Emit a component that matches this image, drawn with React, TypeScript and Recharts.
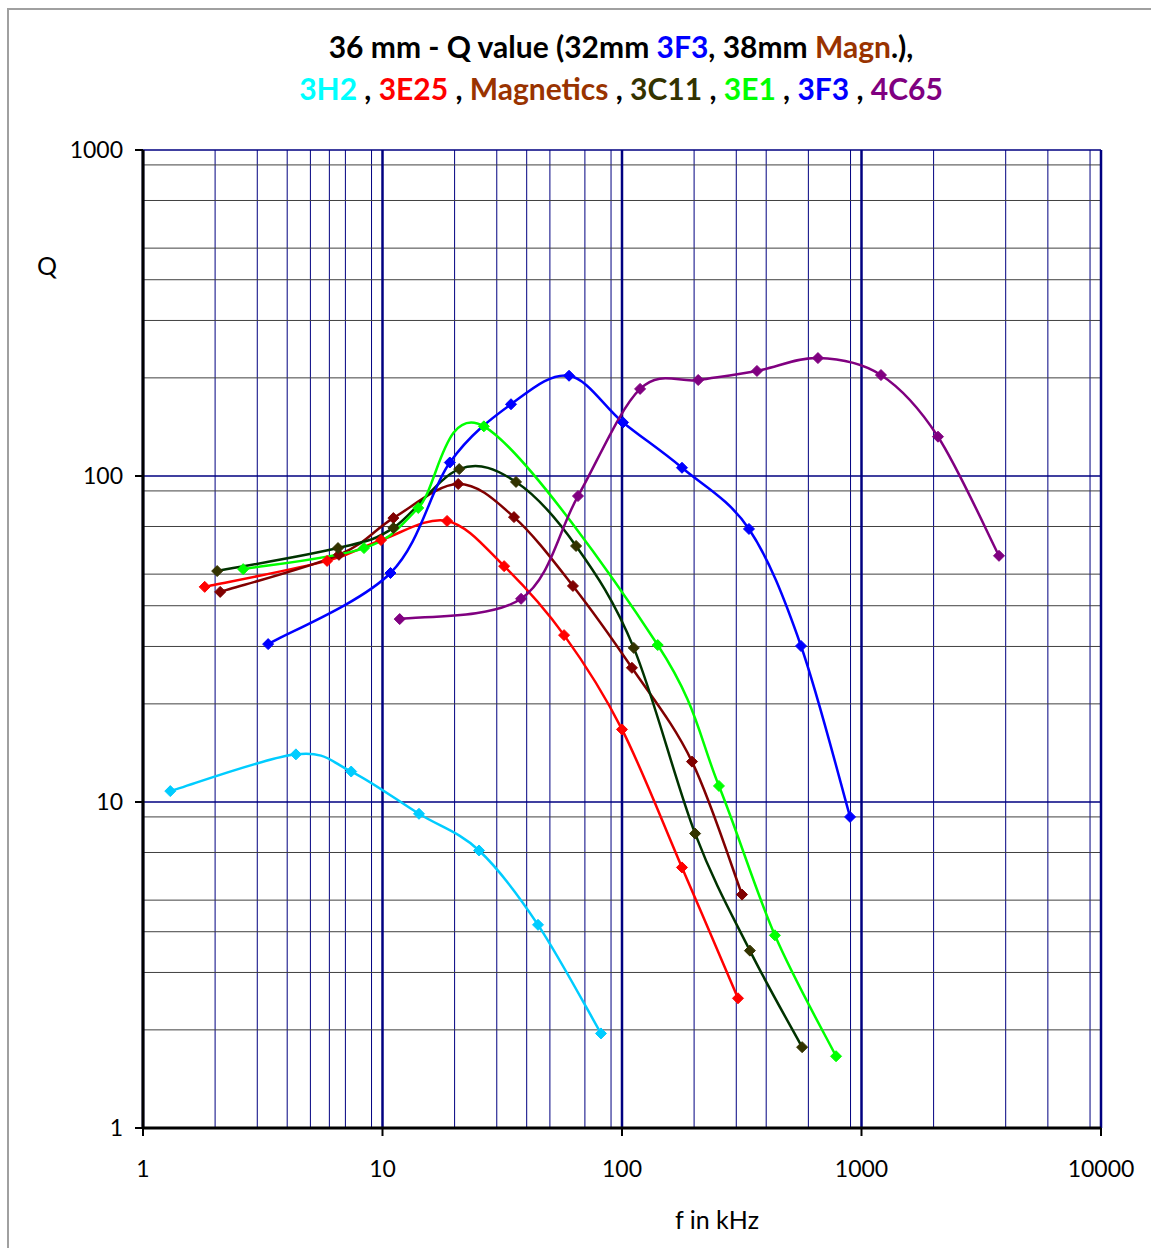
import React from "react";
import { LineChart, Line, XAxis, YAxis, CartesianGrid } from "recharts";

// frequencies in kHz and Q values
const h2F = [1.3, 4.35, 7.4, 14.2, 25.3, 44.6, 81.7];
const h2Q = [10.8, 14.0, 12.4, 9.2, 7.1, 4.2, 1.95];
const e25F = [1.81, 5.87, 9.86, 18.6, 32.2, 57.3, 100, 178, 305];
const e25Q = [45.7, 54.9, 63.6, 72.8, 52.9, 32.5, 16.7, 6.3, 2.5];
const magF = [2.1, 6.58, 11.1, 20.7, 35.4, 62.4, 110, 196, 317];
const magQ = [44.1, 57.3, 74.3, 94.5, 74.8, 46, 25.8, 13.3, 5.2];
const c11F = [2.04, 6.52, 11.1, 20.9, 36.1, 64.3, 112, 202, 342, 565];
const c11Q = [51.1, 60.1, 69.3, 105, 95.9, 61, 29.7, 8.0, 3.5, 1.77];
const e1F = [2.62, 8.37, 14.1, 26.5, 141, 254, 435, 783];
const e1Q = [51.8, 60.1, 79.8, 142, 30.3, 11.2, 3.9, 1.66];
const f3F = [3.33, 10.8, 19.1, 34.4, 60.1, 101, 178, 339, 559, 896];
const f3Q = [30.5, 50.4, 110, 166, 203, 146, 106, 68.8, 30.1, 9.0];
const c65F = [11.8, 37.9, 65.5, 119, 208, 366, 658, 1206, 2086, 3751];
const c65Q = [36.4, 42, 86.8, 185, 197, 210, 230, 204, 132, 56.9];

const xTicks = [1, 10, 100, 1000, 10000];
const yTicks = [1, 10, 100, 1000];
const xMinor = [2, 3, 4, 5, 6, 7, 8, 9, 20, 30, 40, 50, 60, 70, 80, 90, 200, 300, 400, 500, 600, 700, 800, 900, 2000, 3000, 4000, 5000, 6000, 7000, 8000, 9000];
const yMinor = [2, 3, 4, 5, 6, 7, 8, 9, 20, 30, 40, 50, 60, 70, 80, 90, 200, 300, 400, 500, 600, 700, 800, 900];

const zip = (f: number[], q: number[]) => f.map((v, i) => ({ f: v, q: q[i] }));

const series = [
  { name: "3H2", data: zip(h2F, h2Q), color: "#00CCFF", dot: "#00CCFF" },
  { name: "3E25", data: zip(e25F, e25Q), color: "#FF0000", dot: "#FF0000" },
  { name: "Magnetics", data: zip(magF, magQ), color: "#800000", dot: "#800000" },
  { name: "3C11", data: zip(c11F, c11Q), color: "#003300", dot: "#333300" },
  { name: "3E1", data: zip(e1F, e1Q), color: "#00FF00", dot: "#00FF00" },
  { name: "3F3", data: zip(f3F, f3Q), color: "#0000FF", dot: "#0000FF" },
  { name: "4C65", data: zip(c65F, c65Q), color: "#800080", dot: "#800080" },
];

// excel-like smoothed line (catmull-rom as bezier)
function smooth(context: any) {
  let pts: number[][] = [];
  return {
    areaStart() {},
    areaEnd() {},
    lineStart() {
      pts = [];
    },
    point(x: number, y: number) {
      pts.push([+x, +y]);
    },
    lineEnd() {
      if (!pts.length) return;
      context.moveTo(pts[0][0], pts[0][1]);
      const t = 1 / 6;
      for (let i = 0; i < pts.length - 1; i++) {
        const p0 = pts[i - 1] || pts[i];
        const p1 = pts[i];
        const p2 = pts[i + 1];
        const p3 = pts[i + 2] || p2;
        context.bezierCurveTo(
          p1[0] + (p2[0] - p0[0]) * t,
          p1[1] + (p2[1] - p0[1]) * t,
          p2[0] - (p3[0] - p1[0]) * t,
          p2[1] - (p3[1] - p1[1]) * t,
          p2[0],
          p2[1]
        );
      }
    },
  };
}

const Diamond = (color: string) => (props: any) => {
  const { cx, cy } = props;
  if (cx == null || cy == null) return null;
  const r = 5.5;
  return (
    <polygon
      key={`${cx}-${cy}`}
      points={`${cx},${cy - r} ${cx + r},${cy} ${cx},${cy + r} ${cx - r},${cy}`}
      fill={color}
      stroke={color}
    />
  );
};

const font = "Lato, 'Open Sans', sans-serif";
const tickStyle = { fontFamily: font, fontSize: 23, fill: "#000" };

const C = (color: string, text: string) => <span style={{ color }}>{text}</span>;

export default function App() {
  return (
    <div style={{ position: "absolute", left: 0, top: 0, width: 1151, height: 1248, background: "#fff" }}>
      <div
        style={{
          position: "absolute",
          left: 7,
          top: 8,
          width: 1160,
          height: 1260,
          borderLeft: "2px solid #A0A0A0",
          borderTop: "2px solid #A0A0A0",
        }}
      />
      <LineChart
        width={1151}
        height={1248}
        margin={{ top: 150, right: 50, bottom: 60, left: 63 }}
        style={{ position: "absolute", left: 0, top: 0 }}
      >
        <CartesianGrid vertical horizontal={false} verticalValues={xMinor} stroke="#000080" strokeWidth={1} />
        <CartesianGrid vertical={false} horizontal horizontalValues={yMinor} stroke="#404040" strokeWidth={1} />
        <CartesianGrid vertical={false} horizontal horizontalValues={yTicks} stroke="#000080" strokeWidth={1.5} />
        <CartesianGrid vertical horizontal={false} verticalValues={xTicks} stroke="#000080" strokeWidth={2.5} />
        <XAxis
          dataKey="f"
          type="number"
          scale="log"
          domain={[1, 10000]}
          ticks={xTicks}
          allowDataOverflow
          height={60}
          tickSize={8}
          tickMargin={25}
          tick={tickStyle}
          axisLine={{ stroke: "#000", strokeWidth: 3 }}
          tickLine={{ stroke: "#000", strokeWidth: 2 }}
        />
        <YAxis
          dataKey="q"
          type="number"
          scale="log"
          domain={[1, 1000]}
          ticks={yTicks}
          allowDataOverflow
          width={80}
          tickSize={8}
          tickMargin={12}
          tick={tickStyle}
          axisLine={{ stroke: "#000", strokeWidth: 3 }}
          tickLine={{ stroke: "#000", strokeWidth: 2 }}
        />
        {series.map((s) => (
          <Line
            key={s.name}
            name={s.name}
            data={s.data}
            dataKey="q"
            type={smooth as any}
            stroke={s.color}
            strokeWidth={2.5}
            dot={Diamond(s.dot)}
            activeDot={false}
            isAnimationActive={false}
          />
        ))}
      </LineChart>
      <div
        style={{
          position: "absolute",
          left: 121,
          width: 1000,
          top: 25,
          textAlign: "center",
          fontFamily: font,
          fontWeight: 700,
          fontSize: 30,
          lineHeight: "42px",
          color: "#000",
        }}
      >
        <div>
          36 mm - Q value (32mm {C("#0000FF", "3F3")}, 38mm {C("#993300", "Magn")}.),
        </div>
        <div>
          {C("#00FFFF", "3H2")} , {C("#FF0000", "3E25")} , {C("#993300", "Magnetics")} , {C("#333300", "3C11")} ,{" "}
          {C("#00FF00", "3E1")} , {C("#0000FF", "3F3")} , {C("#800080", "4C65")}
        </div>
      </div>
      <div style={{ position: "absolute", left: 37, top: 250, fontFamily: font, fontSize: 25, lineHeight: "30px" }}>Q</div>
      <div
        style={{
          position: "absolute",
          left: 617,
          width: 200,
          top: 1204,
          textAlign: "center",
          fontFamily: font,
          fontSize: 25,
          lineHeight: "30px",
        }}
      >
        f in kHz
      </div>
    </div>
  );
}
